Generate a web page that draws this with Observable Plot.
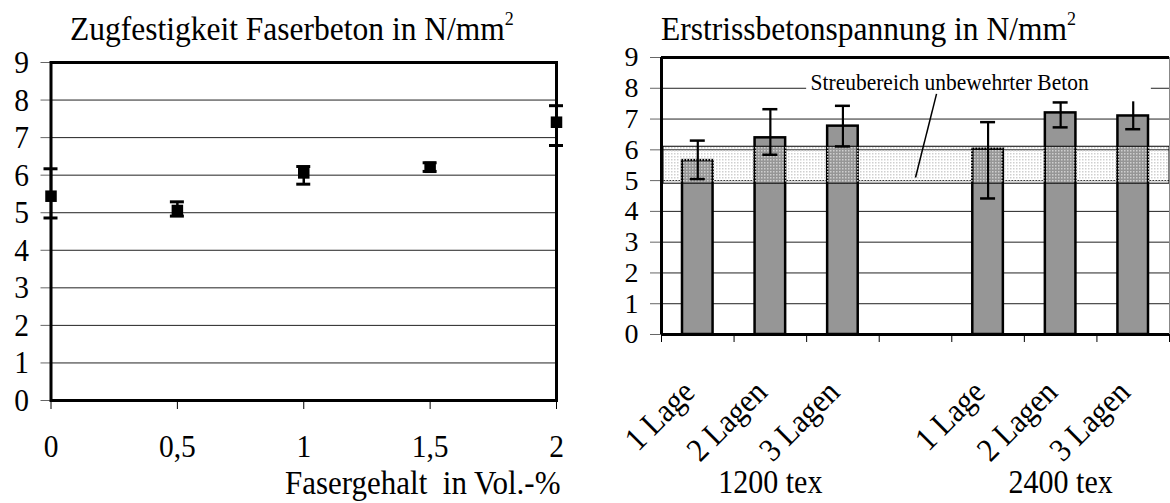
<!DOCTYPE html>
<html>
<head>
<meta charset="utf-8">
<script src="https://cdn.jsdelivr.net/npm/d3@7"></script>
<script src="https://cdn.jsdelivr.net/npm/@observablehq/plot@0.6"></script>
<style>
  body { margin: 0; background: #fff; }
  #wrap { position: relative; width: 1170px; height: 503px; overflow: hidden; background: #fff;
          font-family: "Liberation Serif", "Times New Roman", serif; color: #000; }
  .title { position: absolute; font-size: 31.5px; line-height: 31.5px; white-space: nowrap;
           transform: scaleY(1.1); transform-origin: 50% 75%; }
  .title sup { font-size: 18px; line-height: 0; position: relative; top: -3px; vertical-align: super; }
  .chart { position: absolute; top: 0; }
</style>
</head>
<body>
<div id="wrap">
  <div class="title" style="left:70px; top:14px;">Zugfestigkeit Faserbeton in N/mm<sup>2</sup></div>
  <div class="title" style="left:661px; top:14px;">Erstrissbetonspannung in N/mm<sup>2</sup></div>
  <div class="chart" id="left" style="left:0px;"></div>
  <div class="chart" id="right" style="left:590px;"></div>
</div>
<script>
// ---------- Left chart data: Zugfestigkeit Faserbeton ----------
const faserGehalt = [0, 0.5, 1, 1.5, 2];
const zugMittel   = [5.44, 5.06, 6.06, 6.21, 7.41];
const zugMax      = [6.17, 5.29, 6.23, 6.33, 7.85];
const zugMin      = [4.86, 4.91, 5.76, 6.10, 6.79];
const yTicks = [0, 1, 2, 3, 4, 5, 6, 7, 8, 9];
const xLabelLeft = "Fasergehalt\u00a0 in Vol.-%";

// ---------- Right chart data: Erstrissbetonspannung ----------
const lagenLabels = ["1 Lage", "2 Lagen", "3 Lagen", "", "1 Lage", "2 Lagen", "3 Lagen"];
const erstriss    = [5.65, 6.39, 6.77, null, 6.02, 7.20, 7.10];
const erstrissMax = [6.30, 7.32, 7.43, null, 6.90, 7.54, 7.56];
const erstrissMin = [5.05, 5.84, 6.11, null, 4.42, 6.73, 6.67];
const garnGruppen = ["1200 tex", "2400 tex"];
const streuBereich = [4.9, 6.1];           // scatter range of plain concrete
const streuText = "Streubereich unbewehrter Beton";

const font = "Liberation Serif, Times New Roman, serif";
const STRETCH = 1.1;

function stretchTexts(svg, s, skipClass) {
  svg.querySelectorAll("text").forEach(t => {
    if (skipClass && t.closest("." + skipClass)) return;
    const b = t.getBBox();
    const cx = b.x + b.width / 2, cy = b.y + b.height / 2;
    const tr = t.getAttribute("transform") || "";
    t.setAttribute("transform", `${tr} translate(${cx},${cy}) scale(1,${s}) translate(${-cx},${-cy})`);
  });
}

// ---- Left plot ----
const leftData = faserGehalt.map((x, i) => ({x, m: zugMittel[i], hi: zugMax[i], lo: zugMin[i]}));
const left = Plot.plot({
  width: 580, height: 503,
  marginLeft: 50.5, marginRight: 24, marginTop: 62, marginBottom: 103,
  style: {fontFamily: font, fontSize: "29px", color: "#000", background: "transparent", overflow: "visible"},
  x: {domain: [0, 2]},
  y: {domain: [0, 9]},
  marks: [
    Plot.ruleY(yTicks.filter(d => d > 0 && d < 9), {stroke: "#222", strokeWidth: 1}),
    Plot.axisY({ticks: yTicks, tickSize: 10, tickPadding: 12, stroke: "#666", label: null, fontSize: 29.5}),
    Plot.axisX({ticks: faserGehalt, tickSize: 9, tickPadding: 26, stroke: "#000", label: null, fontSize: 29.5,
                tickFormat: d => String(d).replace(".", ",")}),
    Plot.frame({stroke: "#000", strokeWidth: 3}),
    Plot.ruleX(leftData, {x: "x", y1: "lo", y2: "hi", stroke: "#000", strokeWidth: 2.5}),
    Plot.ruleY(leftData, {y: "hi", x1: "x", x2: "x", insetLeft: -7, insetRight: -7, stroke: "#000", strokeWidth: 3}),
    Plot.ruleY(leftData, {y: "lo", x1: "x", x2: "x", insetLeft: -7, insetRight: -7, stroke: "#000", strokeWidth: 3}),
    Plot.dot(leftData, {x: "x", y: "m", symbol: "square", r: 6.5, fill: "#000", stroke: null}),
    Plot.text([xLabelLeft], {frameAnchor: "bottom-right", lineAnchor: "middle", dx: 4, dy: 83,
                             textAnchor: "end", fontSize: 31, fill: "#000"})
  ]
});
document.getElementById("left").appendChild(left);
stretchTexts(left, STRETCH);

// ---- Right plot ----
const rightData = lagenLabels.map((lab, i) => ({pos: i + 0.5, lab, v: erstriss[i], hi: erstrissMax[i], lo: erstrissMin[i]}));
const bars = rightData.filter(d => d.v != null);
const slotEdges = d3.range(0, lagenLabels.length + 1);
const groupData = garnGruppen.map((g, i) => ({g, pos: i * 4 + 1.5}));
const annot = [{x1: 2.0, x2: 6.75, y1: 7.72, y2: 8.3, tx: 3.97, ty: 8.2, lx1: 3.79, ly1: 7.82, lx2: 3.5, ly2: 5.1}];

const right = Plot.plot({
  width: 580, height: 503,
  marginLeft: 71, marginRight: 1, marginTop: 57, marginBottom: 169,
  style: {fontFamily: font, fontSize: "28px", color: "#000", background: "transparent", overflow: "visible"},
  x: {domain: [0, lagenLabels.length]},
  y: {domain: [0, 9]},
  marks: [
    Plot.ruleY(yTicks.filter(d => d > 0 && d < 9), {stroke: "#222", strokeWidth: 1}),
    Plot.axisY({ticks: yTicks, tickSize: 11, tickPadding: 12, stroke: "#666", label: null, fontSize: 28,
                className: "yax-right"}),
    Plot.axisX({ticks: slotEdges, tickSize: 8, stroke: "#000", label: null, tickFormat: () => ""}),
    Plot.rectY(bars, {x1: d => d.pos - 0.5, x2: d => d.pos + 0.5, y: "v", insetLeft: 21, insetRight: 21,
                      fill: "#969696", stroke: "#000", strokeWidth: 2.5}),
    Plot.rect([streuBereich], {x1: 0, x2: lagenLabels.length, y1: d => d[0], y2: d => d[1], insetLeft: 2,
                              fill: "url(#streuDots)", stroke: "#000", strokeWidth: 1}),
    Plot.ruleX(bars, {x: "pos", y1: "lo", y2: "hi", stroke: "#000", strokeWidth: 2.2}),
    Plot.ruleY(bars.filter((d, i) => i !== bars.length - 1), {y: "hi", x1: "pos", x2: "pos", insetLeft: -7.5, insetRight: -7.5, stroke: "#000", strokeWidth: 2.5}),
    Plot.ruleY(bars, {y: "lo", x1: "pos", x2: "pos", insetLeft: -7.5, insetRight: -7.5, stroke: "#000", strokeWidth: 2.5}),
    Plot.rect(annot, {x1: "x1", x2: "x2", y1: "y1", y2: "y2", fill: "#fff"}),
    Plot.link(annot, {x1: "lx1", y1: "ly1", x2: "lx2", y2: "ly2", stroke: "#000", strokeWidth: 1.5}),
    Plot.text(annot, {x: "tx", y: "ty", text: () => streuText, fontSize: 21.5, fill: "#000"}),
    Plot.ruleY([0], {stroke: "#000", strokeWidth: 3}),
    Plot.ruleY([9], {stroke: "#000", strokeWidth: 3}),
    Plot.ruleX([0], {stroke: "#000", strokeWidth: 3}),
    Plot.ruleX([lagenLabels.length], {stroke: "#888", strokeWidth: 1}),
    Plot.text(rightData.filter(d => d.lab), {x: "pos", text: "lab", frameAnchor: "bottom", rotate: -45,
              textAnchor: "end", lineAnchor: "middle", dy: 52, dx: -9, fontSize: 30, fill: "#000"}),
    Plot.text(groupData, {x: "pos", text: "g", frameAnchor: "bottom", lineAnchor: "middle", dy: 148,
                          fontSize: 30, fill: "#000"})
  ]
});
// dotted pattern for the scatter band
const defs = d3.select(right).insert("defs", ":first-child");
const pat = defs.append("pattern").attr("id", "streuDots").attr("patternUnits", "userSpaceOnUse")
  .attr("width", 3).attr("height", 3);
pat.append("rect").attr("width", 1.5).attr("height", 1.5).attr("fill", "#cfcfcf");
document.getElementById("right").appendChild(right);
stretchTexts(right, STRETCH, "yax-right");
</script>
</body>
</html>
